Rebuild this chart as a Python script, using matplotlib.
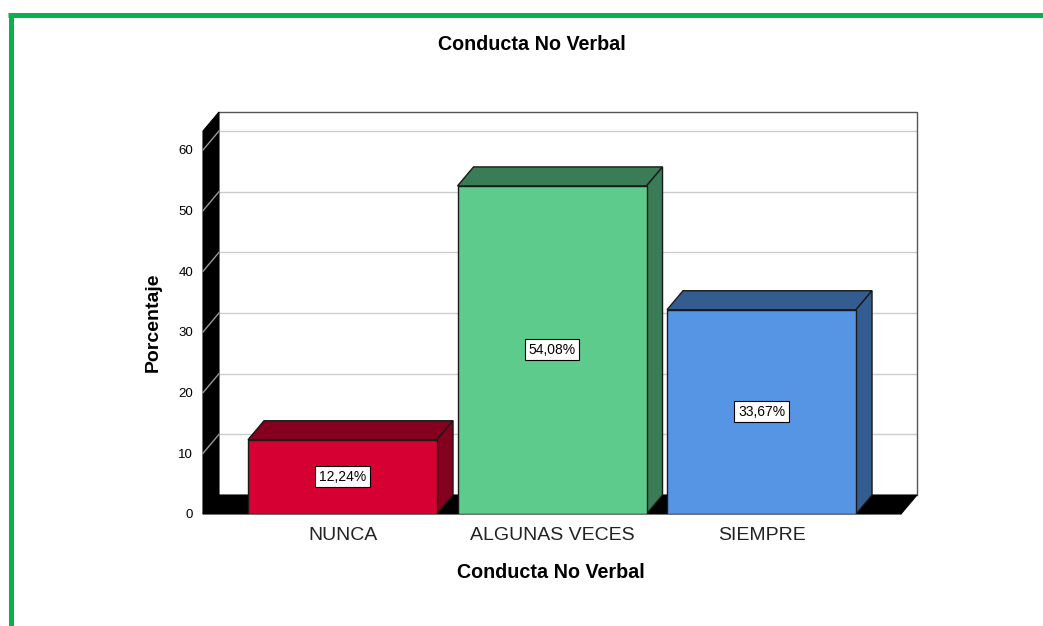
import matplotlib
matplotlib.use("Agg")
import matplotlib.pyplot as plt
from matplotlib.patches import Polygon
from matplotlib.lines import Line2D

plt.rcParams['font.family'] = ['Liberation Sans', 'DejaVu Sans']

categories = ["NUNCA", "ALGUNAS VECES", "SIEMPRE"]
values = [12.24, 54.08, 33.67]
labels = ["12,24%", "54,08%", "33,67%"]
yticks = [0, 10, 20, 30, 40, 50, 60]

front_colors = ["#D70032", "#5DCB8B", "#5595E4"]
dark_colors = ["#85001F", "#3A7C55", "#335D91"]

W, H = 1043, 626
fig = plt.figure(figsize=(W / 100, H / 100), dpi=100)

# axes placed in pixel terms
x_left, x_right, y_bot, y_top = 203, 917, 514, 112
ax = fig.add_axes([x_left / W, 1 - y_bot / H, (x_right - x_left) / W, (y_bot - y_top) / H])

px_per_x = 209.5
px_per_y = 364 / 60
xmin = -0.666
xmax = xmin + (x_right - x_left) / px_per_x
ymax = (y_bot - y_top) / px_per_y
ax.set_xlim(xmin, xmax)
ax.set_ylim(0, ymax)

dx = 16 / px_per_x
dy = 19 / px_per_y
bw = 189 / px_per_x
xpos = list(range(len(categories)))
floor_right = xmax - dx

# back wall gridlines and frame
for v in yticks[1:]:
    ax.plot([xmin + dx, xmax], [v + dy, v + dy], color='#cccccc', lw=1, zorder=1)
ax.plot([xmin + dx, xmax, xmax], [ymax, ymax, dy], color='#555555', lw=1, zorder=1, clip_on=False)

# left wall (black) with diagonal tick guides
ax.add_patch(Polygon([(xmin, 0), (xmin + dx, dy), (xmin + dx, ymax), (xmin, ymax - dy)],
                     closed=True, facecolor='black', edgecolor='black', lw=0.8, zorder=2, clip_on=False))
for v in yticks[1:]:
    ax.plot([xmin, xmin + dx], [v, v + dy], color='#9a9a9a', lw=1, zorder=3, clip_on=False)

# floor (black)
ax.add_patch(Polygon([(xmin, 0), (xmin + dx, dy), (xmax, dy), (floor_right, 0)],
                     closed=True, facecolor='black', edgecolor='black', lw=0.8, zorder=2, clip_on=False))

# bars: front face via ax.bar, top and side from the same values
ax.bar(xpos, values, width=bw, color=front_colors, edgecolor='#1a1a1a', linewidth=1, zorder=5)
for x, v, dc in zip(xpos, values, dark_colors):
    l, r = x - bw / 2, x + bw / 2
    ax.add_patch(Polygon([(l, v), (l + dx, v + dy), (r + dx, v + dy), (r, v)],
                         closed=True, facecolor=dc, edgecolor='#1a1a1a', lw=1, zorder=4))
    ax.add_patch(Polygon([(r, 0), (r + dx, dy), (r + dx, v + dy), (r, v)],
                         closed=True, facecolor=dc, edgecolor='#1a1a1a', lw=1, zorder=4))

for x, v, t in zip(xpos, values, labels):
    ax.text(x, v / 2, t, ha='center', va='center', fontsize=10, color='black', zorder=6,
            bbox=dict(boxstyle='square,pad=0.25', facecolor='white', edgecolor='black', lw=0.8))

for s in ax.spines.values():
    s.set_visible(False)
ax.set_yticks(yticks)
ax.set_yticklabels([str(t) for t in yticks], fontsize=9.5)
ax.set_xticks(xpos)
ax.set_xticklabels(categories, fontsize=14, color='#222222')
ax.tick_params(axis='y', length=0, pad=7)
ax.tick_params(axis='x', length=0, pad=9)

fig.text(532 / W, 1 - 45 / H, "Conducta No Verbal", ha='center', va='center', fontsize=14.2, fontweight='bold')
fig.text(551 / W, 1 - 573 / H, "Conducta No Verbal", ha='center', va='center', fontsize=14.2, fontweight='bold')
fig.text(153 / W, 1 - 322 / H, "Porcentaje", ha='center', va='center', rotation=90, fontsize=14, fontweight='bold')

# green frame on top and left
green = '#0AB04C'
fig.add_artist(Line2D([10.5 / W, 10.5 / W], [0, 1 - 14.5 / H], color=green, lw=3.6, solid_capstyle='butt'))
fig.add_artist(Line2D([8 / W, 1], [1 - 14.5 / H, 1 - 14.5 / H], color=green, lw=3.6, solid_capstyle='butt'))

fig.savefig("out.png", dpi=100)
